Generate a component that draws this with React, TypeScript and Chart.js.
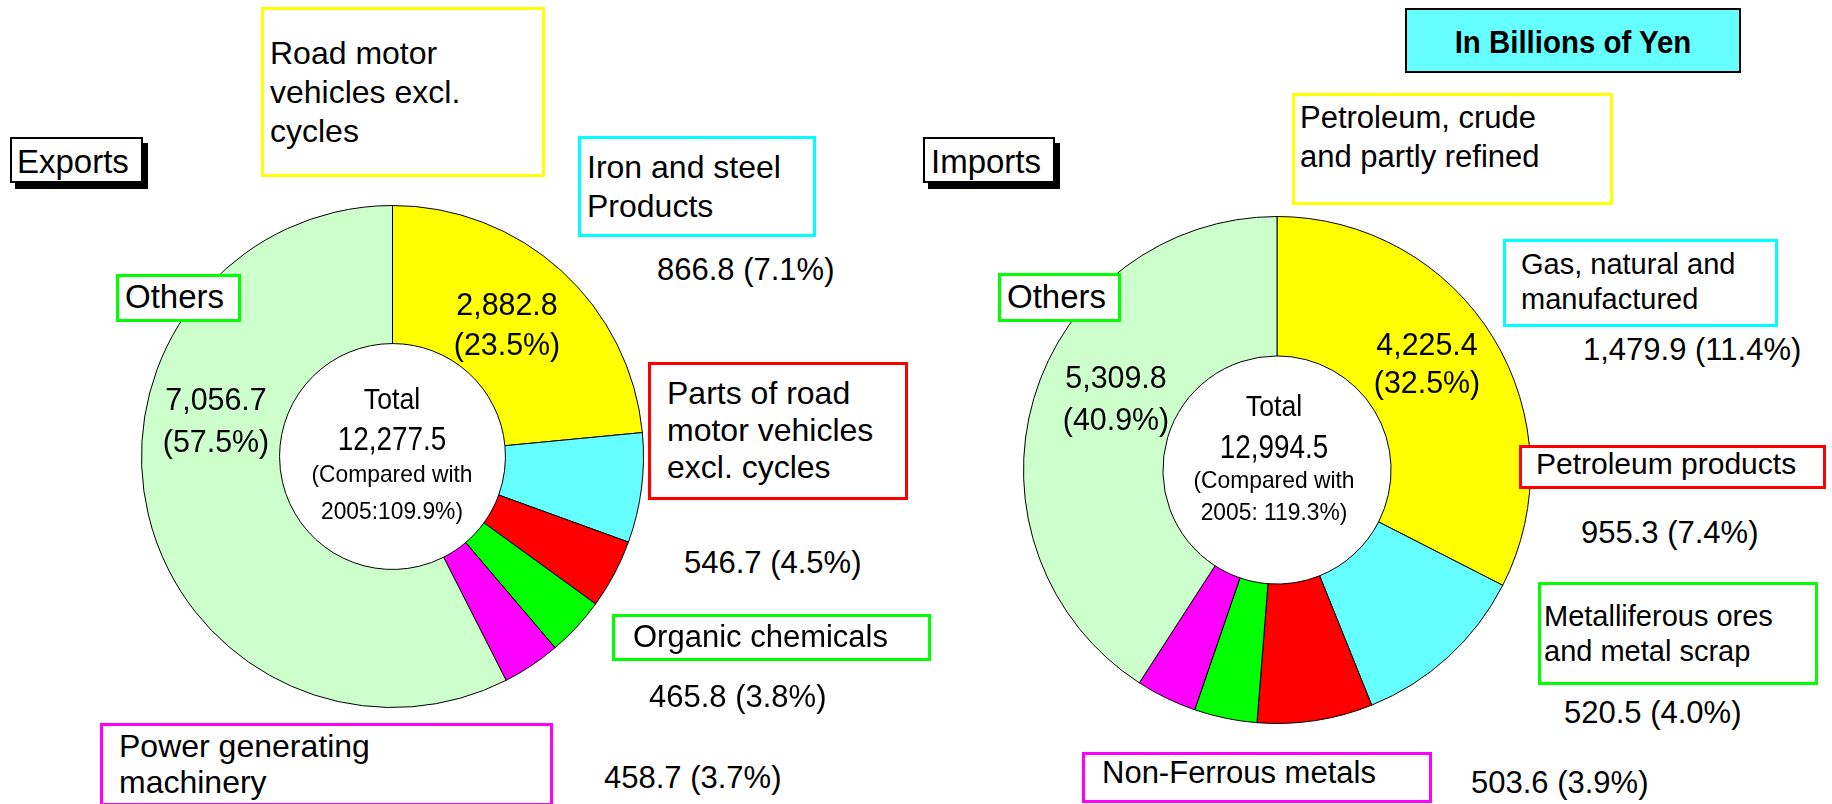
import React, { useEffect, useRef } from "react";
import { Chart, registerables } from "chart.js";

Chart.register(...registerables);

// ---------- DATA ----------
const exportLabels = [
  "Road motor vehicles excl. cycles",
  "Iron and steel Products",
  "Parts of road motor vehicles excl. cycles",
  "Organic chemicals",
  "Power generating machinery",
  "Others",
];
const exportValues = [2882.8, 866.8, 546.7, 465.8, 458.7, 7056.7];
const exportPct = [23.5, 7.1, 4.5, 3.8, 3.7, 57.5];
const exportTotal = 12277.5;
const exportCompared = "2005:109.9%)";

const importLabels = [
  "Petroleum, crude and partly refined",
  "Gas, natural and manufactured",
  "Petroleum products",
  "Metalliferous ores and metal scrap",
  "Non-Ferrous metals",
  "Others",
];
const importValues = [4225.4, 1479.9, 955.3, 520.5, 503.6, 5309.8];
const importPct = [32.5, 11.4, 7.4, 4.0, 3.9, 40.9];
const importTotal = 12994.5;
const importCompared = "2005: 119.3%)";

const sliceColors = ["#FFFF00", "#66FFFF", "#FF0000", "#00FF00", "#FF00FF", "#CCFFCC"];
const boxColors = ["#FFFF00", "#00FFFF", "#FF0000", "#00FF00", "#FF00FF", "#00FF00"];

// ---------- helpers ----------
const FONT = '"Liberation Sans", Arial, sans-serif';
const fmt = (v: number) =>
  v.toLocaleString("en-US", { minimumFractionDigits: 1, maximumFractionDigits: 1 });
const valPct = (v: number, p: number) => `${fmt(v)} (${p.toFixed(1)}%)`;

type TextSpec = {
  x: number;
  baseline: number;
  lines: string[];
  fs: number;
  lh?: number;
  align?: "left" | "center";
  bold?: boolean;
  sx?: number;
};

function Txt({ x, baseline, lines, fs, lh, align = "left", bold, sx }: TextSpec) {
  const L = lh ?? Math.round(fs * 1.2);
  const top = baseline - ((L - 1.117 * fs) / 2 + 0.905 * fs);
  const style: React.CSSProperties = {
    position: "absolute",
    top,
    left: align === "center" ? x - 200 : x,
    width: align === "center" ? 400 : undefined,
    textAlign: align,
    fontFamily: FONT,
    fontSize: fs,
    lineHeight: `${L}px`,
    fontWeight: bold ? "bold" : "normal",
    color: "#000",
    whiteSpace: "nowrap",
    transform: sx ? `scaleX(${sx})` : undefined,
    transformOrigin: align === "center" ? "50% 50%" : "0 50%",
  };
  return (
    <div style={style}>
      {lines.map((l, i) => (
        <div key={i}>{l}</div>
      ))}
    </div>
  );
}

function Box({ x1, y1, x2, y2, color, bw = 3, bg = "#fff", shadow }: {
  x1: number; y1: number; x2: number; y2: number; color: string; bw?: number; bg?: string; shadow?: boolean;
}) {
  return (
    <div
      style={{
        position: "absolute",
        left: x1,
        top: y1,
        width: x2 - x1,
        height: y2 - y1,
        border: `${bw}px solid ${color}`,
        boxSizing: "border-box",
        background: bg,
        boxShadow: shadow ? "5px 6px 0 #000" : undefined,
      }}
    />
  );
}

function Donut({ cx, cy, r, labels, values }: {
  cx: number; cy: number; r: number; labels: string[]; values: number[];
}) {
  const ref = useRef<HTMLCanvasElement | null>(null);
  const pad = 5;
  const size = Math.round(2 * r + 2 * pad + 1);
  useEffect(() => {
    if (!ref.current) return;
    const chart = new Chart(ref.current, {
      type: "doughnut",
      data: {
        labels,
        datasets: [
          {
            data: values,
            backgroundColor: sliceColors,
            borderColor: "#000",
            borderWidth: 1,
          },
        ],
      },
      options: {
        responsive: false,
        animation: false,
        cutout: "45%",
        events: [],
        layout: { padding: pad },
        plugins: { legend: { display: false }, tooltip: { enabled: false } },
      },
    });
    return () => chart.destroy();
  }, []);
  return (
    <canvas
      ref={ref}
      width={size}
      height={size}
      style={{ position: "absolute", left: cx - size / 2, top: cy - size / 2, width: size, height: size }}
    />
  );
}

export default function App() {
  const E = exportValues;
  const I = importValues;
  return (
    <div
      style={{
        position: "fixed",
        left: 0,
        top: 0,
        width: 1832,
        height: 804,
        background: "#fff",
        overflow: "hidden",
      }}
    >
      <Donut cx={392} cy={456} r={251} labels={exportLabels} values={exportValues} />
      <Donut cx={1277} cy={470} r={253.5} labels={importLabels} values={importValues} />

      {/* ---------- Exports ---------- */}
      <Box x1={10} y1={137} x2={143} y2={183} color="#000" bw={2} shadow />
      <Txt x={17} baseline={173} lines={["Exports"]} fs={33} />

      <Box x1={261} y1={7} x2={545} y2={177} color={boxColors[0]} />
      <Txt x={270} baseline={65} lines={["Road motor", "vehicles excl.", "cycles"]} fs={32} lh={39} />

      <Box x1={578} y1={136} x2={816} y2={237} color={boxColors[1]} />
      <Txt x={587} baseline={179} lines={["Iron and steel", "Products"]} fs={32} lh={39} />
      <Txt x={657} baseline={280} lines={[valPct(E[1], exportPct[1])]} fs={31} />

      <Box x1={648} y1={362} x2={908} y2={500} color={boxColors[2]} />
      <Txt x={667} baseline={405} lines={["Parts of road", "motor vehicles", "excl. cycles"]} fs={32} lh={37} />
      <Txt x={684} baseline={573} lines={[valPct(E[2], exportPct[2])]} fs={31} />

      <Box x1={612} y1={614} x2={931} y2={661} color={boxColors[3]} />
      <Txt x={633} baseline={647} lines={["Organic chemicals"]} fs={31} />
      <Txt x={649} baseline={707} lines={[valPct(E[3], exportPct[3])]} fs={31} />

      <Box x1={100} y1={723} x2={553} y2={806} color={boxColors[4]} />
      <Txt x={119} baseline={757} lines={["Power generating", "machinery"]} fs={32} lh={36} />
      <Txt x={604} baseline={788} lines={[valPct(E[4], exportPct[4])]} fs={31} />

      <Box x1={116} y1={274} x2={241} y2={322} color={boxColors[5]} />
      <Txt x={125} baseline={308} lines={["Others"]} fs={33} />

      <Txt x={507} baseline={315} lines={[fmt(E[0]), `(${exportPct[0].toFixed(1)}%)`]} fs={32} lh={40} align="center" sx={0.95} />
      <Txt x={216} baseline={410} lines={[fmt(E[5]), `(${exportPct[5].toFixed(1)}%)`]} fs={32} lh={42} align="center" sx={0.95} />

      <Txt x={392} baseline={410} lines={["Total"]} fs={29} align="center" sx={0.92} />
      <Txt x={392} baseline={450} lines={[fmt(exportTotal)]} fs={34} align="center" sx={0.82} />
      <Txt x={392} baseline={482} lines={["(Compared with", exportCompared]} fs={24} lh={37} align="center" sx={0.95} />

      {/* ---------- Imports ---------- */}
      <Box x1={1405} y1={8} x2={1741} y2={73} color="#000" bw={2} bg="#66FFFF" />
      <Txt x={1573} baseline={53} lines={["In Billions of Yen"]} fs={31} bold align="center" sx={0.95} />

      <Box x1={923} y1={137} x2={1055} y2={183} color="#000" bw={2} shadow />
      <Txt x={931} baseline={173} lines={["Imports"]} fs={33} />

      <Box x1={1292} y1={93} x2={1613} y2={205} color={boxColors[0]} />
      <Txt x={1300} baseline={128} lines={["Petroleum, crude", "and partly refined"]} fs={31} lh={39} />

      <Box x1={1503} y1={239} x2={1778} y2={327} color={boxColors[1]} />
      <Txt x={1521} baseline={275} lines={["Gas, natural and", "manufactured"]} fs={29} lh={35} />
      <Txt x={1583} baseline={360} lines={[valPct(I[1], importPct[1])]} fs={31} />

      <Box x1={1519} y1={445} x2={1826} y2={489} color={boxColors[2]} />
      <Txt x={1536} baseline={474} lines={["Petroleum products"]} fs={30} />
      <Txt x={1581} baseline={543} lines={[valPct(I[2], importPct[2])]} fs={31} />

      <Box x1={1538} y1={582} x2={1818} y2={685} color={boxColors[3]} />
      <Txt x={1544} baseline={627} lines={["Metalliferous ores", "and metal scrap"]} fs={29} lh={35} />
      <Txt x={1564} baseline={723} lines={[valPct(I[3], importPct[3])]} fs={31} />

      <Box x1={1082} y1={752} x2={1432} y2={803} color={boxColors[4]} />
      <Txt x={1102} baseline={783} lines={["Non-Ferrous metals"]} fs={31} />
      <Txt x={1471} baseline={793} lines={[valPct(I[4], importPct[4])]} fs={31} />

      <Box x1={998} y1={273} x2={1121} y2={322} color={boxColors[5]} />
      <Txt x={1007} baseline={308} lines={["Others"]} fs={33} />

      <Txt x={1427} baseline={355} lines={[fmt(I[0]), `(${importPct[0].toFixed(1)}%)`]} fs={32} lh={38} align="center" sx={0.95} />
      <Txt x={1116} baseline={388} lines={[fmt(I[5]), `(${importPct[5].toFixed(1)}%)`]} fs={32} lh={42} align="center" sx={0.95} />

      <Txt x={1274} baseline={417} lines={["Total"]} fs={29} align="center" sx={0.92} />
      <Txt x={1274} baseline={458} lines={[fmt(importTotal)]} fs={34} align="center" sx={0.82} />
      <Txt x={1274} baseline={488} lines={["(Compared with", importCompared]} fs={24} lh={32} align="center" sx={0.95} />
    </div>
  );
}
